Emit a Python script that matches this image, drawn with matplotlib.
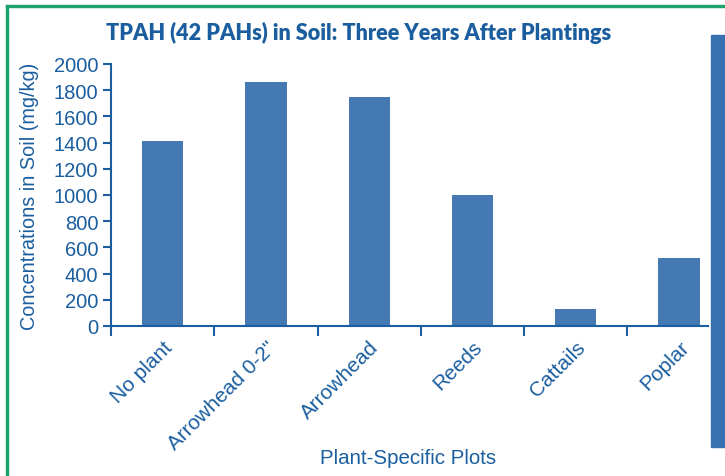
import matplotlib
matplotlib.use("Agg")
import matplotlib.pyplot as plt
from matplotlib.patches import Rectangle

# data
plots = ["No plant", "Arrowhead 0-2\"", "Arrowhead", "Reeds", "Cattails", "Poplar"]
tpah = [1410, 1860, 1745, 1000, 130, 520]
yticks = [0, 200, 400, 600, 800, 1000, 1200, 1400, 1600, 1800, 2000]

blue_text = "#1b5e9f"
bar_col = "#4579b3"
green = "#1ea26c"

plt.rcParams['font.family'] = ['Liberation Sans', 'DejaVu Sans']

fig = plt.figure(figsize=(7.25, 4.77), dpi=100)
ax = fig.add_axes([111/725, 1 - 327/477, 597/725, 262/477])

x = list(range(len(plots)))
ax.bar(x, tpah, width=0.4, color=bar_col, zorder=2)

ax.set_xlim(-0.5, 5.28)
ax.set_ylim(0, 2000)
ax.set_yticks(yticks)

ax.set_xticks(x)
ax.set_xticklabels(plots, rotation=45, ha='right', va='top', rotation_mode='anchor')
ax.set_xticks([i - 0.5 for i in range(len(plots))], minor=True)
ax.tick_params(axis='x', which='major', length=0, pad=8, labelsize=15, labelcolor=blue_text)
ax.tick_params(axis='x', which='minor', length=7, width=1.5, color=blue_text, direction='out')
ax.tick_params(axis='y', length=6, width=1.5, color=blue_text, labelsize=14.5,
               labelcolor=blue_text, direction='out', pad=3)

for s in ['top', 'right']:
    ax.spines[s].set_visible(False)
for s in ['left', 'bottom']:
    ax.spines[s].set_color(blue_text)
    ax.spines[s].set_linewidth(1.5)

ax.set_ylabel("Concentrations in Soil (mg/kg)", fontsize=14.3, color=blue_text, labelpad=11)
fig.text(408/725, 1 - 459/477, "Plant-Specific Plots", fontsize=14.8, color=blue_text,
         ha='center', va='center')
fig.text(359/725, 1 - 33/477, "TPAH (42 PAHs) in Soil: Three Years After Plantings",
         fontsize=15.6, fontweight='heavy', color=blue_text, ha='center', va='center',
         family=['Lato', 'DejaVu Sans'])

# frame decorations
fig.patches.append(Rectangle((6/725, 1 - 8/477), 719/725, 2/477, transform=fig.transFigure,
                             color=green, zorder=5))
fig.patches.append(Rectangle((6/725, 0), 2/725, 1 - 6/477, transform=fig.transFigure,
                             color=green, zorder=5))
fig.patches.append(Rectangle((711/725, 1 - 448/477), 14/725, 412/477, transform=fig.transFigure,
                             color="#3771b0", zorder=5))

fig.savefig("out.png", dpi=100)
